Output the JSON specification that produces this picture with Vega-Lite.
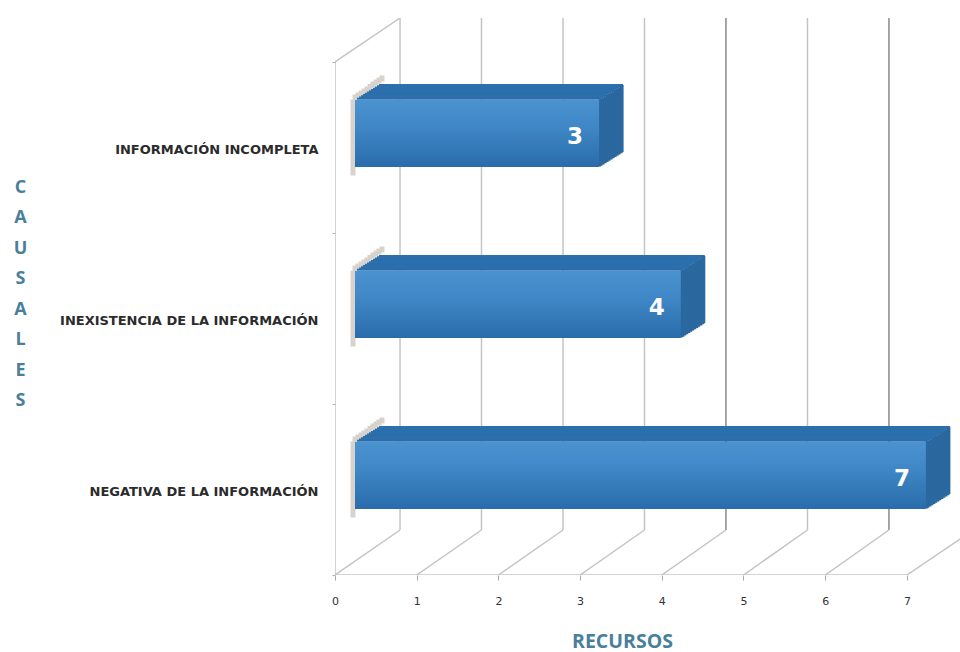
{"$schema":"https://vega.github.io/schema/vega-lite/v6.json","width":625,"height":557,"autosize":{"type":"none"},"padding":{"left":335,"top":18,"right":0,"bottom":77},"background":"white","config":{"view":{"stroke":null}},
"datasets":{"barras":[{"causal":"INFORMACIÓN INCOMPLETA","recursos":3},{"causal":"INEXISTENCIA DE LA INFORMACIÓN","recursos":4},{"causal":"NEGATIVA DE LA INFORMACIÓN","recursos":7}],
"guias":[{"serie":"izq","recursos":0,"nivel":0},{"serie":"izq","recursos":0,"nivel":0.921},{"serie":"piso","recursos":0,"nivel":0},{"serie":"piso","recursos":7,"nivel":0},{"serie":"pared","recursos":0,"nivel":0.921},{"serie":"pared","recursos":0.796,"nivel":1},
{"serie":"d0","recursos":0,"nivel":0},{"serie":"d0","recursos":0.796,"nivel":0.0808},{"serie":"d1","recursos":1,"nivel":0},{"serie":"d1","recursos":1.793,"nivel":0.0808},{"serie":"d2","recursos":2,"nivel":0},{"serie":"d2","recursos":2.791,"nivel":0.0808},{"serie":"d3","recursos":3,"nivel":0},{"serie":"d3","recursos":3.788,"nivel":0.0808},{"serie":"d4","recursos":4,"nivel":0},{"serie":"d4","recursos":4.785,"nivel":0.0808},{"serie":"d5","recursos":5,"nivel":0},{"serie":"d5","recursos":5.783,"nivel":0.0808},{"serie":"d6","recursos":6,"nivel":0},{"serie":"d6","recursos":6.78,"nivel":0.0808},{"serie":"d7","recursos":7,"nivel":0},{"serie":"d7","recursos":7.65,"nivel":0.0646},
{"serie":"f0","recursos":0.796,"nivel":0.0808},{"serie":"f0","recursos":0.796,"nivel":1},{"serie":"f1","recursos":1.793,"nivel":0.0808},{"serie":"f1","recursos":1.793,"nivel":1},{"serie":"f2","recursos":2.791,"nivel":0.0808},{"serie":"f2","recursos":2.791,"nivel":1},{"serie":"f3","recursos":3.788,"nivel":0.0808},{"serie":"f3","recursos":3.788,"nivel":1},{"serie":"f4","recursos":4.785,"nivel":0.0808},{"serie":"f4","recursos":4.785,"nivel":1},{"serie":"f5","recursos":5.783,"nivel":0.0808},{"serie":"f5","recursos":5.783,"nivel":1},{"serie":"f6","recursos":6.78,"nivel":0.0808},{"serie":"f6","recursos":6.78,"nivel":1}]},
"encoding":{"x":{"field":"recursos","type":"quantitative","scale":{"domain":[0,7.65],"nice":false},"axis":{"values":[0,1,2,3,4,5,6,7],"format":"d","grid":false,"domain":false,"labelFlush":false,"tickColor":"#a8a8a8","tickSize":5,"labelFont":"DejaVu Sans","labelFontSize":11,"labelColor":"#333333","labelPadding":15,"title":"RECURSOS","titleFont":"Open Sans","titleFontSize":19.5,"titleFontWeight":"bold","titleColor":"#4a7f9c","titleX":287,"titleY":66,"titleBaseline":"middle","titleAnchor":null}}},
"layer":[
{"data":{"name":"guias"},"mark":{"type":"line","color":"#c4c4c4","strokeWidth":1.5,"clip":true},"encoding":{"y":{"field":"nivel","type":"quantitative","scale":{"domain":[0,1],"nice":false},"axis":null},"detail":{"field":"serie"}}},
{"data":{"name":"guias"},"transform":[{"filter":{"field":"serie","oneOf":["f4","f6"]}}],"mark":{"type":"line","color":"#8f8f8f","strokeWidth":1.3},"encoding":{"y":{"field":"nivel","type":"quantitative","scale":{"domain":[0,1],"nice":false},"axis":null},"detail":{"field":"serie"}}},
{"data":{"name":"barras"},"encoding":{"y":{"field":"causal","type":"nominal","sort":null,"scale":{"range":[44,557],"paddingInner":0,"paddingOuter":0},"axis":{"title":["C","A","U","S","A","L","E","S"],"titleFont":"Open Sans","titleFontSize":18,"titleFontWeight":"bold","titleColor":"#4a7f9c","titleAngle":0,"titleAlign":"center","titleBaseline":"top","titleLineHeight":30.5,"titleX":-315,"titleY":160,"domain":false,"tickBand":"extent","tickColor":"#b5b5b5","tickSize":3,"labelFont":"DejaVu Sans","labelFontSize":13,"labelFontWeight":"bold","labelColor":"#2b2b2b","labelPadding":14,"labelLimit":320,"labelOffset":2}}},
"layer":[
{"mark":{"type":"rect","color":"#d8d2cc","width":5,"height":76,"xOffset":18,"yOffset":-10},"encoding":{"x":{"datum":0}}},
{"mark":{"type":"rect","color":"#d8d2cc","width":5,"height":6,"xOffset":20,"yOffset":-50},"encoding":{"x":{"datum":0}}},
{"mark":{"type":"rect","color":"#d8d2cc","width":5,"height":6,"xOffset":23,"yOffset":-52},"encoding":{"x":{"datum":0}}},
{"mark":{"type":"rect","color":"#d8d2cc","width":5,"height":6,"xOffset":26,"yOffset":-54},"encoding":{"x":{"datum":0}}},
{"mark":{"type":"rect","color":"#d8d2cc","width":5,"height":6,"xOffset":29,"yOffset":-56},"encoding":{"x":{"datum":0}}},
{"mark":{"type":"rect","color":"#d8d2cc","width":5,"height":6,"xOffset":32,"yOffset":-58},"encoding":{"x":{"datum":0}}},
{"mark":{"type":"rect","color":"#d8d2cc","width":5,"height":6,"xOffset":35,"yOffset":-60.5},"encoding":{"x":{"datum":0}}},
{"mark":{"type":"rect","color":"#d8d2cc","width":5,"height":6,"xOffset":38,"yOffset":-63},"encoding":{"x":{"datum":0}}},
{"mark":{"type":"rect","color":"#d8d2cc","width":5,"height":6,"xOffset":41,"yOffset":-65},"encoding":{"x":{"datum":0}}},
{"mark":{"type":"rect","color":"#d8d2cc","width":5,"height":6,"xOffset":44,"yOffset":-67},"encoding":{"x":{"datum":0}}},
{"mark":{"type":"rect","color":"#d8d2cc","width":5,"height":6,"xOffset":47,"yOffset":-69},"encoding":{"x":{"datum":0}}},
{"mark":{"type":"rect","color":"#2b6fad","height":2,"xOffset":21,"x2Offset":22,"yOffset":-48.75},"encoding":{"x2":{"datum":0}}},
{"mark":{"type":"rect","color":"#2b6fad","height":2,"xOffset":23,"x2Offset":24,"yOffset":-50},"encoding":{"x2":{"datum":0}}},
{"mark":{"type":"rect","color":"#2b6fad","height":2,"xOffset":25,"x2Offset":26,"yOffset":-51.25},"encoding":{"x2":{"datum":0}}},
{"mark":{"type":"rect","color":"#2b6fad","height":2,"xOffset":27,"x2Offset":28,"yOffset":-52.5},"encoding":{"x2":{"datum":0}}},
{"mark":{"type":"rect","color":"#2b6fad","height":2,"xOffset":29,"x2Offset":30,"yOffset":-53.75},"encoding":{"x2":{"datum":0}}},
{"mark":{"type":"rect","color":"#2b6fad","height":2,"xOffset":31,"x2Offset":32,"yOffset":-55},"encoding":{"x2":{"datum":0}}},
{"mark":{"type":"rect","color":"#2b6fad","height":2,"xOffset":33,"x2Offset":34,"yOffset":-56.25},"encoding":{"x2":{"datum":0}}},
{"mark":{"type":"rect","color":"#2b6fad","height":2,"xOffset":35,"x2Offset":36,"yOffset":-57.5},"encoding":{"x2":{"datum":0}}},
{"mark":{"type":"rect","color":"#2b6fad","height":2,"xOffset":37,"x2Offset":38,"yOffset":-58.75},"encoding":{"x2":{"datum":0}}},
{"mark":{"type":"rect","color":"#2b6fad","height":2,"xOffset":39,"x2Offset":40,"yOffset":-60},"encoding":{"x2":{"datum":0}}},
{"mark":{"type":"rect","color":"#2b6fad","height":2,"xOffset":41,"x2Offset":42,"yOffset":-61.25},"encoding":{"x2":{"datum":0}}},
{"mark":{"type":"rect","color":"#2b6fad","height":2,"xOffset":43,"x2Offset":44,"yOffset":-62.5},"encoding":{"x2":{"datum":0}}},
{"mark":{"type":"rect","color":"#2a689f","width":3,"height":67,"xOffset":19.5,"yOffset":-14.5}},
{"mark":{"type":"rect","color":"#2a689f","width":3,"height":67,"xOffset":21,"yOffset":-15.25}},
{"mark":{"type":"rect","color":"#2a689f","width":3,"height":67,"xOffset":23,"yOffset":-16.5}},
{"mark":{"type":"rect","color":"#2a689f","width":3,"height":67,"xOffset":25,"yOffset":-17.75}},
{"mark":{"type":"rect","color":"#2a689f","width":3,"height":67,"xOffset":27,"yOffset":-19}},
{"mark":{"type":"rect","color":"#2a689f","width":3,"height":67,"xOffset":29,"yOffset":-20.25}},
{"mark":{"type":"rect","color":"#2a689f","width":3,"height":67,"xOffset":31,"yOffset":-21.5}},
{"mark":{"type":"rect","color":"#2a689f","width":3,"height":67,"xOffset":33,"yOffset":-22.75}},
{"mark":{"type":"rect","color":"#2a689f","width":3,"height":67,"xOffset":35,"yOffset":-24}},
{"mark":{"type":"rect","color":"#2a689f","width":3,"height":67,"xOffset":37,"yOffset":-25.25}},
{"mark":{"type":"rect","color":"#2a689f","width":3,"height":67,"xOffset":39,"yOffset":-26.5}},
{"mark":{"type":"rect","color":"#2a689f","width":3,"height":67,"xOffset":41,"yOffset":-27.75}},
{"mark":{"type":"rect","color":"#2a689f","width":3,"height":67,"xOffset":42,"yOffset":-29}},
{"mark":{"type":"rect","height":67,"xOffset":19,"x2Offset":20,"yOffset":-14,"color":{"gradient":"linear","x1":0,"y1":0,"x2":0,"y2":1,"stops":[{"offset":0,"color":"#4a93d0"},{"offset":0.4,"color":"#3f87c6"},{"offset":1,"color":"#2a6cab"}]}},"encoding":{"x2":{"datum":0}}},
{"mark":{"type":"text","color":"white","font":"DejaVu Sans","fontWeight":"bold","fontSize":23,"align":"center","baseline":"middle","dx":-5,"dy":-11},"encoding":{"text":{"field":"recursos","type":"quantitative"}}}
]}
],
"resolve":{"scale":{"y":"independent"},"axis":{"y":"independent"}}}
